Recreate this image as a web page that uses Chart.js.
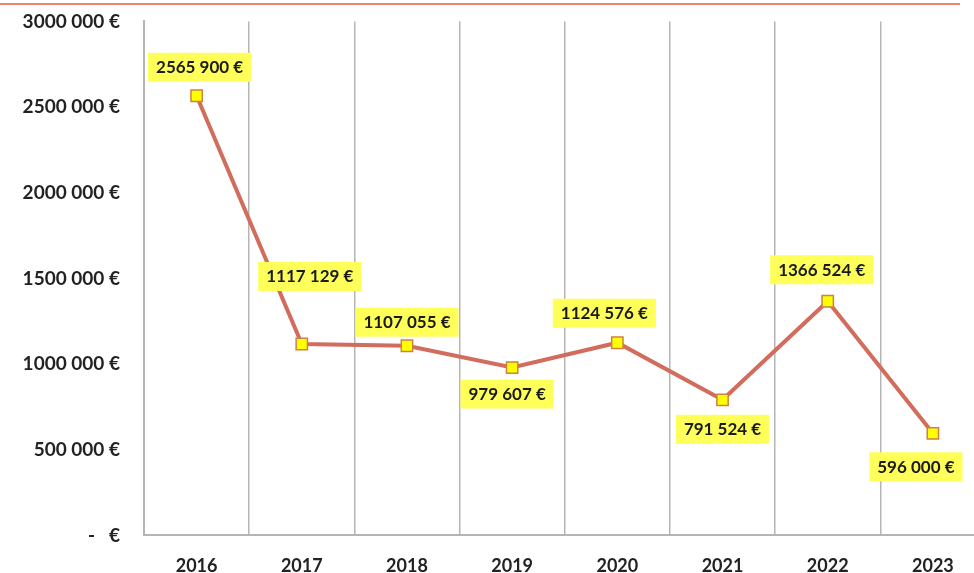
<!DOCTYPE html>
<html>
<head>
<meta charset="utf-8">
<script src="https://cdn.jsdelivr.net/npm/chart.js@4/dist/chart.umd.min.js"></script>
<style>
  html, body { margin: 0; padding: 0; background: #fff; overflow: hidden; }
  #page { position: relative; width: 974px; height: 573px; overflow: hidden; }
  #wrap { position: absolute; left: 0; top: -14px; width: 995px; height: 611px; }
  #topline { position: absolute; left: 0; top: 3px; width: 960px; height: 2px; background: #f08070; z-index: 2; }
</style>
</head>
<body>
<div id="page">
  <div id="topline"></div>
  <div id="wrap"><canvas id="myChart"></canvas></div>
</div>
<script>
const years = ["2016", "2017", "2018", "2019", "2020", "2021", "2022", "2023"];
const amounts = [2565900, 1117129, 1107055, 979607, 1124576, 791524, 1366524, 596000];
const yTicks = [0, 500000, 1000000, 1500000, 2000000, 2500000, 3000000];

// where each value label sits relative to its point (px)
const labelShift = [[3, -29], [8, -68], [0, -24], [-5, 26], [-13, -30], [0, 29], [-6, -32], [-17, 33]];

function euro(v) {
  if (v === 0) return "-   €";
  const k = Math.floor(v / 1000);
  const r = String(v % 1000).padStart(3, "0");
  return k + " " + r + " €";
}

const valueLabels = {
  id: "valueLabels",
  afterDatasetsDraw(chart) {
    const ctx = chart.ctx;
    const meta = chart.getDatasetMeta(0);
    ctx.save();
    ctx.font = "bold 17px Lato";
    ctx.textAlign = "center";
    ctx.textBaseline = "middle";
    meta.data.forEach((pt, i) => {
      const txt = euro(amounts[i]);
      const x = pt.x + labelShift[i][0];
      const y = pt.y + labelShift[i][1];
      const w = ctx.measureText(txt).width + 16;
      ctx.fillStyle = "#ffff5a";
      ctx.fillRect(x - w / 2, y - 14, w, 29);
      ctx.fillStyle = "#1a1a1a";
      ctx.fillText(txt, x, y + 1);
    });
    ctx.restore();
  }
};

const ctx = document.getElementById("myChart");
new Chart(ctx, {
  type: "line",
  data: {
    labels: years,
    datasets: [{
      data: amounts,
      borderColor: "#d26c5c",
      borderWidth: 4,
      pointStyle: "rect",
      pointRadius: 8,
      pointBorderWidth: 1.5,
      pointBackgroundColor: "#ffff00",
      pointBorderColor: "#d08040",
      tension: 0
    }]
  },
  options: {
    responsive: true,
    maintainAspectRatio: false,
    animation: false,
    layout: { padding: { top: 11, right: 3, left: 0, bottom: 0 } },
    plugins: { legend: { display: false }, tooltip: { enabled: false } },
    scales: {
      x: {
        offset: true,
        grid: { display: true, offset: true, color: "#b5b5b5", lineWidth: 1.5, drawTicks: false },
        border: { display: true, color: "#b5b5b5", width: 2 },
        ticks: { color: "#222", font: { family: "Lato", weight: "bold", size: 18 }, padding: 20 }
      },
      y: {
        min: 0,
        max: 3000000,
        afterBuildTicks(axis) { axis.ticks = yTicks.map(v => ({ value: v })); },
        afterFit(axis) { axis.width = 144; },
        grid: { display: false, drawTicks: false },
        border: { display: true, color: "#b5b5b5", width: 2 },
        ticks: {
          color: "#222",
          font: { family: "Lato", weight: "bold", size: 19 },
          padding: 24,
          callback: (v) => euro(v)
        }
      }
    }
  },
  plugins: [valueLabels]
});
</script>
</body>
</html>
